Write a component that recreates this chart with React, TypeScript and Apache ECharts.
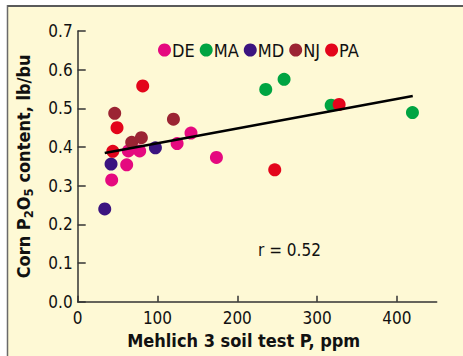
import React, { useEffect, useRef } from "react";
import * as echarts from "echarts";

const seriesNames = ["DE", "MA", "MD", "NJ", "PA"];
const seriesColors = ["#e5097f", "#00a442", "#3b1480", "#9b2433", "#e3051b"];

const deData: [number, number][] = [
  [42.6, 0.315], [61.4, 0.354], [63.5, 0.39], [77.7, 0.39],
  [124.6, 0.409], [142, 0.436], [173.9, 0.373],
];
const maData: [number, number][] = [
  [235.7, 0.549], [258.7, 0.575], [317.7, 0.508], [419.6, 0.489],
];
const mdData: [number, number][] = [
  [33.9, 0.24], [41.8, 0.356], [97.4, 0.398],
];
const njData: [number, number][] = [
  [46.4, 0.487], [67.7, 0.412], [79.8, 0.424], [120, 0.472],
];
const paData: [number, number][] = [
  [44, 0.389], [49.3, 0.45], [81.5, 0.558], [247, 0.341], [327.7, 0.51],
];
const fitLine: [number, number][] = [
  [33.9, 0.3845], [420, 0.532],
];
const xTicks = [0, 100, 200, 300, 400];
const rLabel = "r = 0.52";

const FONT = "'Liberation Sans Narrow', 'DejaVu Sans Condensed', 'Liberation Sans', sans-serif";

export default function App() {
  const ref = useRef<HTMLDivElement>(null);
  useEffect(() => {
    if (!ref.current) return;
    const chart = echarts.init(ref.current, null, { renderer: "svg" });
    const all = [deData, maData, mdData, njData, paData];
    chart.setOption({
      animation: false,
      backgroundColor: "#ffffff",
      graphic: [
        { type: "rect", shape: { x: 8, y: 6, width: 460, height: 360 }, style: { fill: "#fef9d5" }, z: -10 },
        { type: "line", shape: { x1: 7, y1: 6, x2: 463, y2: 6 }, style: { stroke: "#5a5a5a", lineWidth: 2 }, z: -9 },
        { type: "line", shape: { x1: 7.5, y1: 5, x2: 7.5, y2: 356 }, style: { stroke: "#6a6a6a", lineWidth: 1.5 }, z: -9 },
        {
          type: "text", left: 258, top: 241,
          style: { text: rLabel, fontFamily: FONT, fontSize: 17, fill: "#111" },
        },
      ],
      grid: { left: 77.7, right: 26.3, top: 31, bottom: 54.3, containLabel: false },
      legend: {
        data: seriesNames,
        left: 153, top: 36,
        icon: "circle",
        itemWidth: 13, itemHeight: 13, itemGap: 5,
        textStyle: { fontFamily: FONT, fontSize: 18, color: "#111", padding: [0, 0, 0, -4] },
      },
      xAxis: {
        type: "value", min: 0, max: 450, interval: 100,
        splitLine: { show: false },
        axisLine: { lineStyle: { color: "#333", width: 1.5 } },
        axisTick: { inside: true, length: 6, customValues: xTicks, lineStyle: { color: "#333", width: 1.5 } },
        axisLabel: { customValues: xTicks, fontFamily: FONT, fontSize: 17, color: "#111", margin: 8 },
        name: "Mehlich 3 soil test P, ppm",
        nameLocation: "middle", nameGap: 30,
        nameTextStyle: { fontFamily: FONT, fontSize: 18, fontWeight: "bold", color: "#111", padding: [0, 27, 0, 0] },
      },
      yAxis: {
        type: "value", min: 0, max: 0.7, interval: 0.1,
        splitLine: { show: false },
        axisLine: { show: true, lineStyle: { color: "#333", width: 1.5 } },
        axisTick: { show: true, inside: true, length: 8, lineStyle: { color: "#333", width: 1.5 } },
        axisLabel: { fontFamily: FONT, fontSize: 17, color: "#111", margin: 5, formatter: (v: number) => v.toFixed(1) },
        name: "{a|Corn P}{s|2}{a|O}{s|5}{a| content, lb/bu}",
        nameLocation: "middle", nameGap: 43,
        nameTextStyle: {
          rich: {
            a: { fontFamily: FONT, fontSize: 18, fontWeight: "bold", color: "#111" },
            s: { fontFamily: FONT, fontSize: 13, fontWeight: "bold", color: "#111", padding: [10, 0, 0, 0] },
          },
        },
      },
      series: [
        ...seriesNames.map((n, i) => ({
          name: n, type: "scatter", data: all[i], symbolSize: 13,
          itemStyle: { color: seriesColors[i], opacity: 1 }, z: 2,
        })),
        {
          type: "line", data: fitLine, showSymbol: false, symbol: "none",
          lineStyle: { color: "#000", width: 2.5 }, z: 5,
        },
      ],
    });
    return () => chart.dispose();
  }, []);
  return <div ref={ref} style={{ position: "absolute", left: 0, top: 0, width: 463, height: 356 }} />;
}
